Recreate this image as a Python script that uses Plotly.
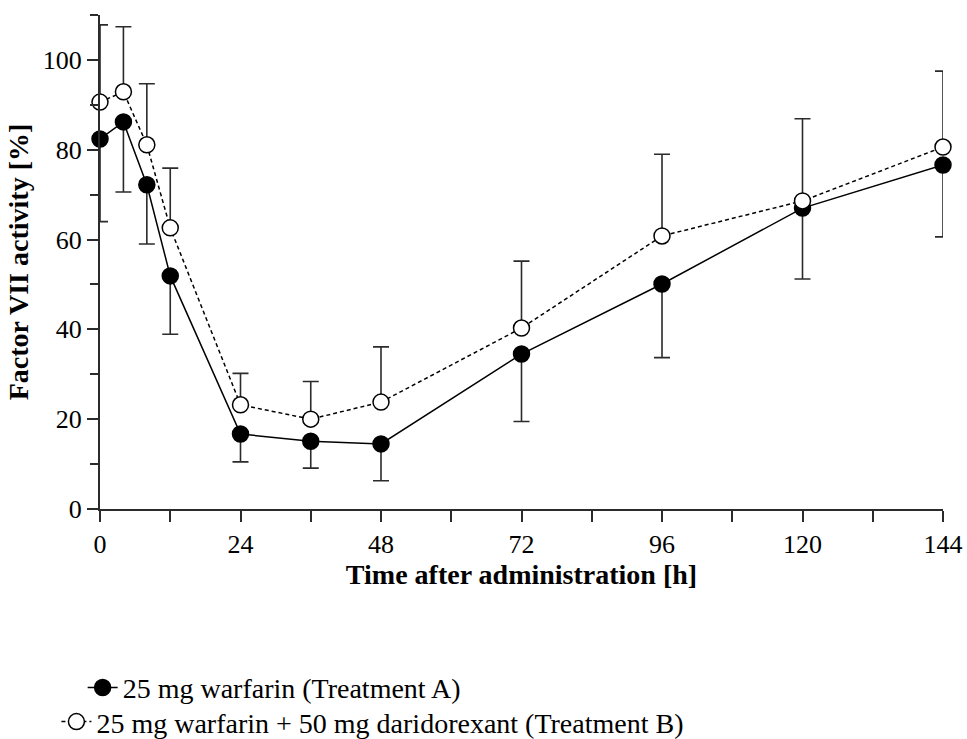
import plotly.graph_objects as go

# Time points (h)
time_h = [0, 4, 8, 12, 24, 36, 48, 72, 96, 120, 144]

# Treatment A: 25 mg warfarin (mean and lower SD)
mean_a = [82.4, 86.2, 72.2, 51.9, 16.7, 15.1, 14.5, 34.5, 50.1, 67.0, 76.6]
sd_a = [18.4, 15.6, 13.2, 13.0, 6.2, 6.0, 8.2, 15.0, 16.4, 15.8, 16.0]

# Treatment B: 25 mg warfarin + 50 mg daridorexant (mean and upper SD)
mean_b = [90.6, 92.9, 81.1, 62.6, 23.2, 20.0, 23.8, 40.3, 60.8, 68.6, 80.6]
sd_b = [17.2, 14.5, 13.6, 13.3, 7.0, 8.4, 12.3, 14.9, 18.2, 18.3, 16.9]

x_ticks = [0, 24, 48, 72, 96, 120, 144]
y_ticks = [0, 20, 40, 60, 80, 100]

name_a = "25 mg warfarin (Treatment A)"
name_b = "25 mg warfarin + 50 mg daridorexant (Treatment B)"

AX = "#2b2b2b"
FONT = "Liberation Serif"

fig = go.Figure()

fig.add_trace(go.Scatter(
    x=time_h, y=mean_a, name=name_a, mode="lines+markers",
    line=dict(color="black", width=1.5),
    marker=dict(symbol="circle", size=16, color="black", line=dict(color="black", width=1.5)),
    error_y=dict(type="data", symmetric=False, array=[0] * len(sd_a), arrayminus=sd_a,
                 color=AX, thickness=1.6, width=8),
    cliponaxis=False, legend="legend",
))

fig.add_trace(go.Scatter(
    x=time_h, y=mean_b, name=name_b, mode="lines+markers",
    line=dict(color="black", width=1.5, dash="4px,3px"),
    marker=dict(symbol="circle", size=16, color="white", line=dict(color="black", width=1.5)),
    error_y=dict(type="data", symmetric=False, array=sd_b, arrayminus=[0] * len(sd_b),
                 color=AX, thickness=1.6, width=8),
    cliponaxis=False, legend="legend2",
))

legend_common = dict(
    xref="paper", yref="paper", xanchor="left", yanchor="middle",
    font=dict(family=FONT, size=28, color="black"),
    itemwidth=30, bgcolor="rgba(0,0,0,0)", borderwidth=0,
)

fig.update_layout(
    width=967, height=739,
    margin=dict(l=100, r=24, t=15, b=230, autoexpand=False),
    paper_bgcolor="white", plot_bgcolor="white",
    font=dict(family=FONT, color="black", size=26),
    showlegend=True,
    legend=dict(x=-0.0206, y=-0.362, **legend_common),
    legend2=dict(x=-0.0517, y=-0.431, **legend_common),
    xaxis=dict(
        range=[0, 144], tickvals=x_ticks, ticktext=[str(v) for v in x_ticks],
        showline=True, linecolor=AX, linewidth=2, showgrid=False, zeroline=False,
        ticks="outside", ticklen=11, tickwidth=1.5, tickcolor=AX,
        minor=dict(dtick=12, tick0=0, ticks="outside", ticklen=11, tickwidth=1.5, tickcolor=AX, showgrid=False),
        tickfont=dict(family=FONT, size=26, color="black"), tickangle=0,
        title=dict(text="<b>Time after administration [h]</b>", font=dict(family=FONT, size=28, color="black"), standoff=6),
    ),
    yaxis=dict(
        range=[0, 110], tickvals=y_ticks, ticktext=[str(v) for v in y_ticks],
        showline=True, linecolor=AX, linewidth=2, showgrid=False, zeroline=False,
        ticks="outside", ticklen=11, tickwidth=1.5, tickcolor=AX,
        minor=dict(dtick=10, tick0=0, ticks="outside", ticklen=8, tickwidth=1.5, tickcolor=AX, showgrid=False),
        tickfont=dict(family=FONT, size=26, color="black"),
        title=dict(text="<b>Factor VII activity [%]</b>", font=dict(family=FONT, size=28, color="black"), standoff=6),
    ),
)

# remove the page's default body margin so the figure fills the window exactly
fig.write_html("out.html", config={"displayModeBar": False},
               post_script="document.body.style.margin='0';")
